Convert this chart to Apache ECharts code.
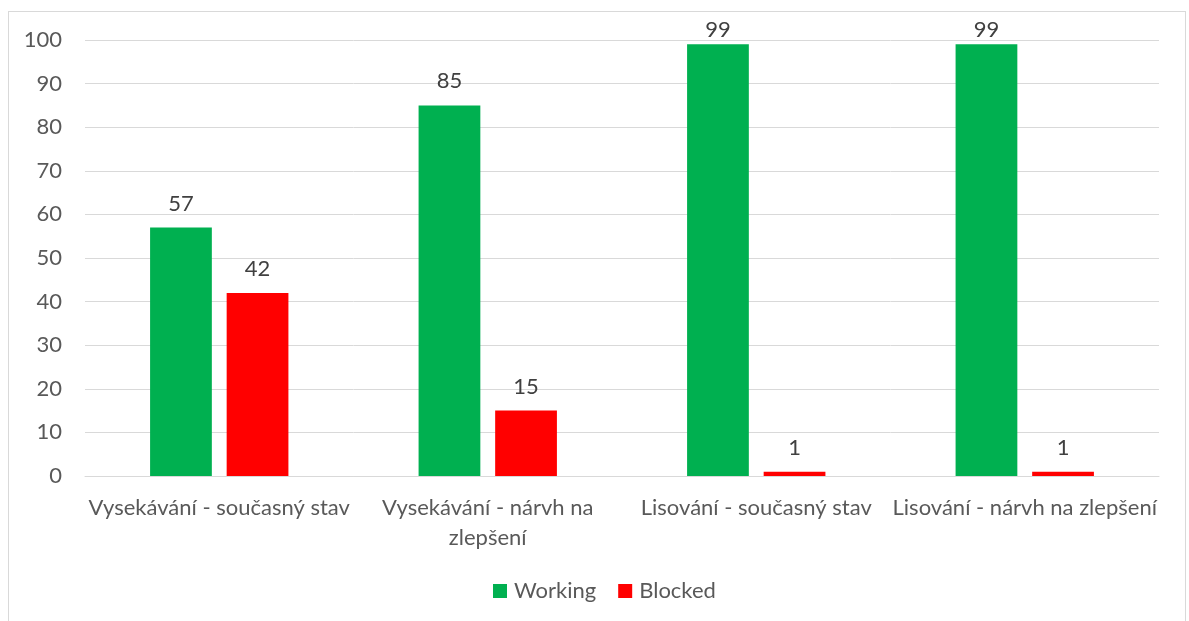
<!DOCTYPE html>
<html>
<head>
<meta charset="utf-8">
<script src="https://cdn.jsdelivr.net/npm/echarts@6/dist/echarts.min.js"></script>
<style>
  html, body { margin: 0; padding: 0; background: #fff; }
  #frame { position: absolute; left: 8px; top: 11px; width: 1178px; height: 620px; border: 1px solid #d9d9d9; box-sizing: border-box; }
  #chart { position: absolute; left: 0; top: 0; width: 1189px; height: 621px; }
</style>
</head>
<body>
<div id="frame"></div>
<div id="chart"></div>
<script>
// Categories (axis labels, with manual line breaks) and series values
const categories = [
  'Vysekávání - současný stav',
  'Vysekávání - nárvh na\nzlepšení',
  'Lisování - současný stav',
  'Lisování - nárvh na zlepšení'
];
const working = [57, 85, 99, 99];
const blocked = [42, 15, 1, 1];
const yTicks = [0, 10, 20, 30, 40, 50, 60, 70, 80, 90, 100];

const FONT = 'Lato, "Open Sans", sans-serif';
const FS = 22;
const Y_MAX = yTicks[yTicks.length - 1];
const chart = echarts.init(document.getElementById('chart'), null, { renderer: 'canvas' });

// Value labels sit above each bar; labels of bars near the top are pulled
// closer so they stay inside the plotting area.
function withLabels(values) {
  return values.map(v => ({
    value: v,
    label: { distance: v > Y_MAX - 3 ? 3 : 13 }
  }));
}

const labelStyle = {
  show: true,
  position: 'top',
  color: '#404040',
  fontSize: FS,
  fontFamily: FONT
};

chart.setOption({
  animation: false,
  textStyle: { fontFamily: FONT },
  grid: { left: 85, right: 30, top: 40, bottom: 145, containLabel: false },
  legend: {
    bottom: 14,
    left: 488,
    itemWidth: 14,
    itemHeight: 14,
    itemGap: 22,
    icon: 'rect',
    textStyle: { color: '#595959', fontSize: FS, fontFamily: FONT, padding: [0, 0, 0, 2] },
    data: ['Working', 'Blocked']
  },
  xAxis: {
    type: 'category',
    data: categories,
    axisLine: { show: true, lineStyle: { color: '#d9d9d9', width: 1 } },
    axisTick: { show: false },
    axisLabel: {
      color: '#595959',
      fontSize: FS,
      fontFamily: FONT,
      margin: 17,
      lineHeight: 30,
      interval: 0
    }
  },
  yAxis: {
    type: 'value',
    min: yTicks[0],
    max: Y_MAX,
    interval: 10,
    axisLine: { show: false },
    axisTick: { show: false },
    splitLine: { lineStyle: { color: '#d9d9d9', width: 1 } },
    axisLabel: { color: '#595959', fontSize: FS, fontFamily: FONT, margin: 23 }
  },
  series: [
    {
      name: 'Working',
      type: 'bar',
      data: withLabels(working),
      barWidth: '23%',
      barGap: '24%',
      itemStyle: { color: '#00B050' },
      label: labelStyle
    },
    {
      name: 'Blocked',
      type: 'bar',
      data: withLabels(blocked),
      barWidth: '23%',
      itemStyle: { color: '#FF0000' },
      label: labelStyle
    }
  ]
});
</script>
</body>
</html>
